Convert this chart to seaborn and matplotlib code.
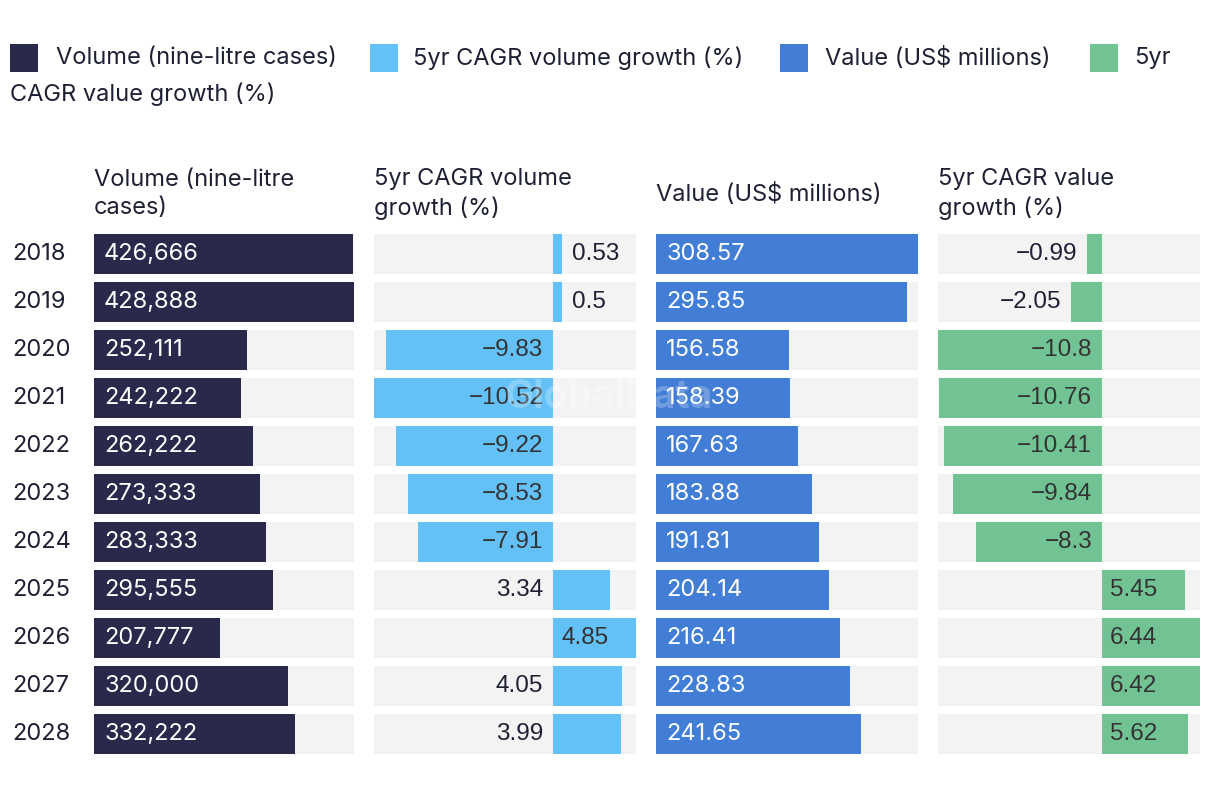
import matplotlib
matplotlib.use("Agg")
import matplotlib.pyplot as plt
import matplotlib.transforms as mtransforms
from matplotlib.patches import Rectangle
import seaborn as sns
import pandas as pd

sns.set_theme(style="white")
plt.rcParams['font.family'] = ['Inter', 'DejaVu Sans']

years = ["2018", "2019", "2020", "2021", "2022", "2023", "2024", "2025", "2026", "2027", "2028"]
volume = [426666, 428888, 252111, 242222, 262222, 273333, 283333, 295555, 207777, 320000, 332222]
cagr_volume = [0.53, 0.5, -9.83, -10.52, -9.22, -8.53, -7.91, 3.34, 4.85, 4.05, 3.99]
value = [308.57, 295.85, 156.58, 158.39, 167.63, 183.88, 191.81, 204.14, 216.41, 228.83, 241.65]
cagr_value = [-0.99, -2.05, -10.8, -10.76, -10.41, -9.84, -8.3, 5.45, 6.44, 6.42, 5.62]

headers = ["Volume (nine-litre\ncases)", "5yr CAGR volume\ngrowth (%)", "Value (US$ millions)", "5yr CAGR value\ngrowth (%)"]
legend_labels = ["Volume (nine-litre cases)", "5yr CAGR volume growth (%)", "Value (US$ millions)", "5yr"]
colors = ["#29294b", "#63c1f8", "#427dd6", "#72c393"]
BG = "#f3f3f3"
TXT = "#1e2033"
LBL = "#333333"
FS = 17
FS_NUM = 17.5
NUMFONT = ["Liberation Sans", "DejaVu Sans"]

W, H = 1220, 796
fig = plt.figure(figsize=(W / 100, H / 100), dpi=100)
fig.patch.set_facecolor("white")


def fx(x):
    return x / W


def fy(y):
    return 1 - y / H


panels_x = [(94, 354), (374, 636), (656, 918), (938, 1200)]
top_px, bot_px = 230, 758
series = [volume, cagr_volume, value, cagr_value]
fmts = [lambda v: f"{v:,.0f}", None, lambda v: f"{v:.2f}", None]


def fmt_num(v):
    return f"{v:g}".replace("-", "\u2212")


def off(ax, dx_px):
    return mtransforms.offset_copy(ax.transData, fig=fig, x=dx_px * 0.72, y=0, units="points")


for i, ((x0, x1), vals, col) in enumerate(zip(panels_x, series, colors)):
    ax = fig.add_axes([fx(x0), fy(bot_px), (x1 - x0) / W, (bot_px - top_px) / H])
    df = pd.DataFrame({"year": years, "val": vals})
    lo = min(0, min(vals))
    hi = max(vals)
    bg = pd.DataFrame({"year": years, "val": [hi - lo] * len(years)})
    sns.barplot(data=bg, y="year", x="val", order=years, color=BG, width=0.833,
                saturation=1, ax=ax, orient="h", linewidth=0)
    for p in ax.patches:
        p.set_x(lo)
    sns.barplot(data=df, y="year", x="val", order=years, color=col, width=0.833,
                saturation=1, ax=ax, orient="h", linewidth=0)
    ax.set_xlim(lo, hi)
    ax.set_ylim(len(years) - 0.5, -0.5)
    ax.axis("off")

    px_per_unit = (x1 - x0) / (hi - lo)
    for j, v in enumerate(vals):
        if i in (0, 2):
            ax.text(0, j, fmts[i](v), transform=off(ax, 10), ha="left", va="center",
                    color="white", fontsize=FS)
        else:
            label = fmt_num(v)
            bar_px = abs(v) * px_per_unit
            if v < 0:
                if bar_px >= 75:
                    ax.text(0, j, label, transform=off(ax, -10), ha="right", va="center",
                            color=LBL, fontsize=FS_NUM, family=NUMFONT)
                else:
                    ax.text(v, j, label, transform=off(ax, -10), ha="right", va="center",
                            color=TXT, fontsize=FS_NUM, family=NUMFONT)
            else:
                right_space = (hi - v) * px_per_unit
                if bar_px >= 75:
                    ax.text(0, j, label, transform=off(ax, 8), ha="left", va="center",
                            color=LBL, fontsize=FS_NUM, family=NUMFONT)
                elif right_space >= 60:
                    ax.text(v, j, label, transform=off(ax, 10), ha="left", va="center",
                            color=TXT, fontsize=FS_NUM, family=NUMFONT)
                else:
                    ax.text(0, j, label, transform=off(ax, -10), ha="right", va="center",
                            color=TXT, fontsize=FS_NUM, family=NUMFONT)
    fig.text(fx(x0), fy(194), headers[i], ha="left", va="center", color=TXT,
             fontsize=FS, linespacing=1.3)
    if i == 0:
        t = mtransforms.blended_transform_factory(fig.transFigure, ax.transData)
        for j, yr in enumerate(years):
            ax.text(fx(12), j, yr, transform=t, ha="left", va="center", color=TXT, fontsize=FS)

# watermark
fig.text(fx(608), fy(398), "GlobalData", ha="center", va="center", color="white",
         alpha=0.25, fontsize=28, fontweight="bold", zorder=0.5)

# legend
sq_x = [10, 370, 780, 1090]
tx_x = [56, 413, 825, 1134]
for sx, tx, lab, col in zip(sq_x, tx_x, legend_labels, colors):
    fig.patches.append(Rectangle((fx(sx), fy(72)), 28 / W, 28 / H, transform=fig.transFigure,
                                 facecolor=col, edgecolor="none"))
    fig.text(fx(tx), fy(58), lab, ha="left", va="center", color=TXT, fontsize=FS)
fig.text(fx(10), fy(94), "CAGR value growth (%)", ha="left", va="center", color=TXT, fontsize=FS)

fig.savefig("out.png", dpi=100, facecolor="white")
